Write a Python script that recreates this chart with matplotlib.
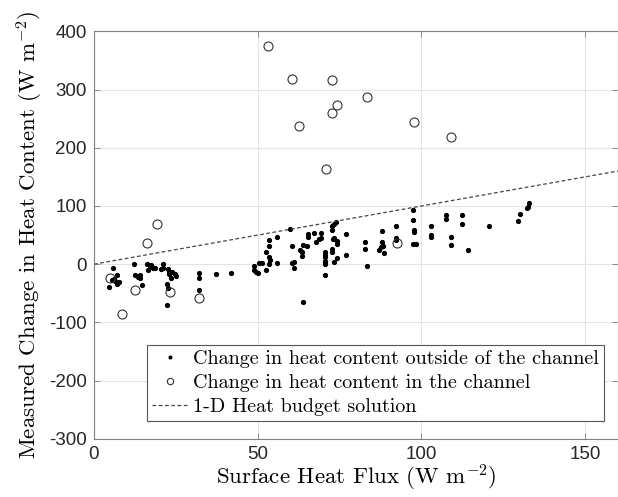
import matplotlib
import matplotlib.pyplot as plt
import numpy as np

matplotlib.use('Agg')

plt.rcParams['mathtext.fontset'] = 'cm'
plt.rcParams['axes.unicode_minus'] = False
plt.rcParams['font.family'] = ['Liberation Sans', 'DejaVu Sans']

# heat content change outside of the channel
flux_out = [5.9, 7.1, 5.5, 6.5, 7.1, 4.5, 6.0, 7.5,
            12.1, 12.4, 13.4, 14.2, 14.2, 14.6, 16.2, 17.1, 16.5, 17.7, 18.0, 17.5, 18.5,
            21.2, 20.5, 21.2, 22.6, 23.0, 23.8, 23.0, 24.8, 25.0, 23.6, 22.4, 22.6, 22.4,
            32.1, 32.1, 32.1, 37.4, 41.8,
            49.0, 49.0, 49.6, 50.2, 50.4, 51.2, 52.5, 53.5, 53.9, 53.5, 52.5, 53.5, 53.5,
            55.9, 55.9, 60.0, 60.6, 60.6, 61.2, 61.2, 63.0, 63.5, 63.5, 63.7, 65.1, 65.3,
            65.3, 63.7, 67.1, 67.9, 68.7, 69.3, 69.3,
            70.6, 70.6, 70.6, 70.6, 70.6, 70.6, 70.6,
            72.6, 72.8, 73.4, 74.0, 73.0, 73.4, 74.2, 74.2, 72.8, 72.8, 74.2, 73.4,
            76.9, 76.9, 82.8, 82.8, 83.5, 87.9, 87.9, 88.3, 87.7, 87.0, 88.5,
            92.3, 92.3, 92.3, 97.5, 97.5, 97.8, 97.8, 97.4, 98.4,
            102.8, 102.8, 102.8, 107.4, 107.4, 109.1, 109.1, 112.5, 112.5, 114.2,
            120.6, 129.4, 130.0, 132.2, 132.4, 132.7]
heat_out = [-6, -18, -27, -29, -34, -39, -25, -31,
            -0.5, -19, -22, -24.5, -19, -35, -0.5, -3.3, -9.6, -5, -6, -1.4, -7.4,
            -0.5, -8.4, -7, -8.4, -13, -14, -17.7, -16.5, -21, -24.5, -33.7, -40.5, -70,
            -14.8, -23.9, -44, -16.5, -14.8,
            -2.7, -10.8, -14.2, -15.3, 1.2, 1.2, -10.8, 0.2, 7.6, 11.6, 20.8, 30.4, 41.9,
            46.6, 1.2, 59.7, 31.1, 1.9, 4.1, -6.8, 24.7, 20.1, 14.4, 32.8, 31.1, 52.2,
            46.6, -64.6, 54, 38, 43, 54, 44.6,
            20.1, 11.5, 5.8, 0.2, -19.4, 15, 4,
            58, 64.8, 69.4, 71.7, 43, 45, 39.7, 33.9, 26, 21.3, 11, 4.1,
            51, 15.6, 38.5, 25.3, -3.3, 57.4, 38.5, 30.4, 29, 24.7, 19,
            66, 44.2, 40.8, 93.5, 75.1, 59.1, 55.5, 33.9, 35,
            65.4, 49.3, 46.4, 84.4, 78, 45.9, 32.8, 84.9, 69.4, 24.7,
            65.4, 74.6, 85.4, 96.4, 98.1, 104.3]

# heat content change in the channel
flux_in = [53.1, 60.6, 72.8, 83.5, 74.3, 72.7, 62.6, 97.7, 109.1, 70.7,
           19.2, 16.2, 4.9, 12.4, 23.3, 8.7, 32.1, 92.4]
heat_in = [375, 318, 316, 288, 273, 259, 237, 244, 218, 163,
           69, 36, -24.5, -44.5, -48.6, -85, -58, 37]

# 1-D heat budget solution
budget_x = np.array([0, 160])
budget_y = budget_x * 1.0

fig = plt.figure(figsize=(6.18, 4.97), dpi=100)
ax = fig.add_axes([0.152, 0.117, 0.848, 0.82])

ax.plot(flux_out, heat_out, '.', color='black', markersize=5.5,
        label='Change in heat content outside of the channel')
ax.plot(flux_in, heat_in, 'o', markerfacecolor='none', markeredgecolor='#333333',
        markeredgewidth=0.8, markersize=6.5, label='Change in heat content in the channel')
ax.plot(budget_x, budget_y, '--', color='#444444', linewidth=0.9, dashes=(3, 2),
        label='1-D Heat budget solution')

ax.set_xlim(0, 160)
ax.set_ylim(-300, 400)
ax.set_xticks([0, 50, 100, 150])
ax.set_yticks(range(-300, 401, 100))
ax.grid(True, color='#e3e3e3', linewidth=0.8)
ax.set_axisbelow(True)

ax.tick_params(direction='in', top=True, right=True, length=4, width=0.6,
               labelsize=13.5, colors='#808080', labelcolor='#262626', pad=5)
for s in ax.spines.values():
    s.set_color('#808080')
    s.set_linewidth(0.8)

ax.set_xlabel('Surface Heat Flux (W m$^{-2}$)', family='cmr10', fontsize=16.5, labelpad=0)
ax.set_ylabel('Measured Change in Heat Content (W m$^{-2}$)', family='cmr10', fontsize=16.5,
              labelpad=3)

leg = ax.legend(loc='lower left', bbox_to_anchor=(0.101, 0.043),
                prop={'family': 'cmr10', 'size': 14.5}, markerscale=0.7,
                frameon=True, fancybox=False, edgecolor='#555555', framealpha=1,
                handlelength=1.8, handletextpad=0.25, borderpad=0.25, labelspacing=0.3,
                borderaxespad=0)
leg.get_frame().set_linewidth(0.8)

fig.savefig('out.png', dpi=100)
plt.close()
